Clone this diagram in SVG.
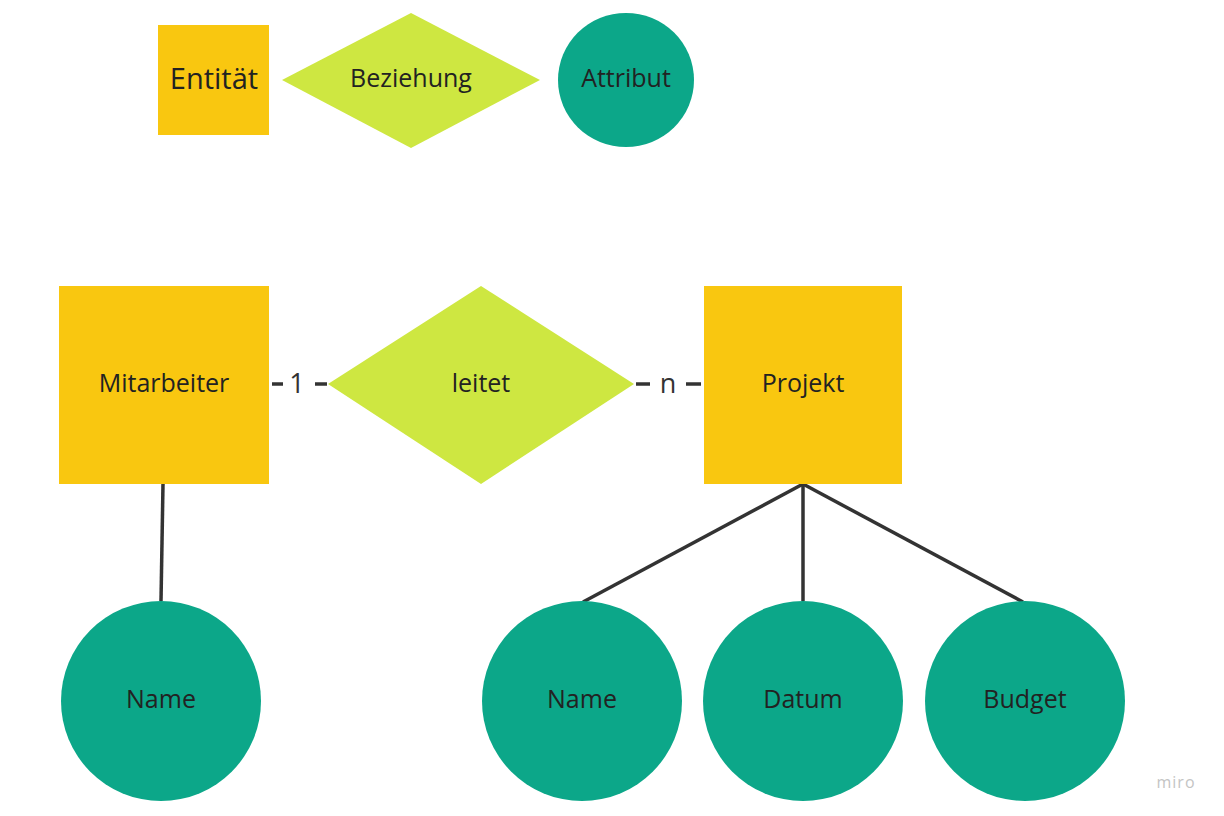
<svg xmlns="http://www.w3.org/2000/svg" width="1224" height="816" viewBox="0 0 1224 816">
<style>
.ent{fill:#F9C710}
.rel{fill:#CEE741}
.att{fill:#0CA789}
.t{font-family:"Open Sans","Liberation Sans",sans-serif;font-size:25px;fill:#222222;text-anchor:middle;dominant-baseline:central}
.c{stroke:#333333;stroke-width:3.5;fill:none}
.lbl{font-family:"Open Sans","Liberation Sans",sans-serif;font-size:27px;fill:#333333;text-anchor:middle;dominant-baseline:central}
</style>
<rect width="1224" height="816" fill="#ffffff"/>
<g id="connectors">
<line class="c" x1="272" y1="384" x2="283" y2="384"/>
<line class="c" x1="315" y1="384" x2="327" y2="384"/>
<text class="lbl" x="297" y="382">1</text>
<line class="c" x1="636" y1="384" x2="650" y2="384"/>
<line class="c" x1="686" y1="384" x2="701" y2="384"/>
<text class="lbl" x="668" y="382">n</text>
<line class="c" x1="163" y1="484" x2="161" y2="601"/>
<line class="c" x1="803" y1="484" x2="583" y2="602"/>
<line class="c" x1="803" y1="484" x2="803" y2="601"/>
<line class="c" x1="803" y1="484" x2="1023" y2="602"/>
</g>
<g id="legend-entity"><rect class="ent" x="158" y="25" width="111" height="110"/><text class="t" x="214" y="77" style="font-size:29px">Entität</text></g>
<g id="legend-relation"><polygon class="rel" points="282,80 411,13 540,80 411,148"/><text class="t" x="411" y="77">Beziehung</text></g>
<g id="legend-attribute"><ellipse class="att" cx="626" cy="80" rx="68" ry="67"/><text class="t" x="626" y="77">Attribut</text></g>
<g id="mitarbeiter"><rect class="ent" x="59" y="286" width="210" height="198"/><text class="t" x="164" y="382">Mitarbeiter</text></g>
<g id="leitet"><polygon class="rel" points="328,384 481,286 634,384 481,484"/><text class="t" x="481" y="382">leitet</text></g>
<g id="projekt"><rect class="ent" x="704" y="286" width="198" height="198"/><text class="t" x="803" y="382">Projekt</text></g>
<g id="name1"><circle class="att" cx="161" cy="701" r="100"/><text class="t" x="161" y="698">Name</text></g>
<g id="name2"><circle class="att" cx="582" cy="701" r="100"/><text class="t" x="582" y="698">Name</text></g>
<g id="datum"><circle class="att" cx="803" cy="701" r="100"/><text class="t" x="803" y="698">Datum</text></g>
<g id="budget"><circle class="att" cx="1025" cy="701" r="100"/><text class="t" x="1025" y="698">Budget</text></g>
<text x="1176" y="782" style="font-family:'Open Sans','Liberation Sans',sans-serif;font-size:16px;fill:#c4c4c4;text-anchor:middle;dominant-baseline:central;letter-spacing:1px">miro</text>
</svg>
